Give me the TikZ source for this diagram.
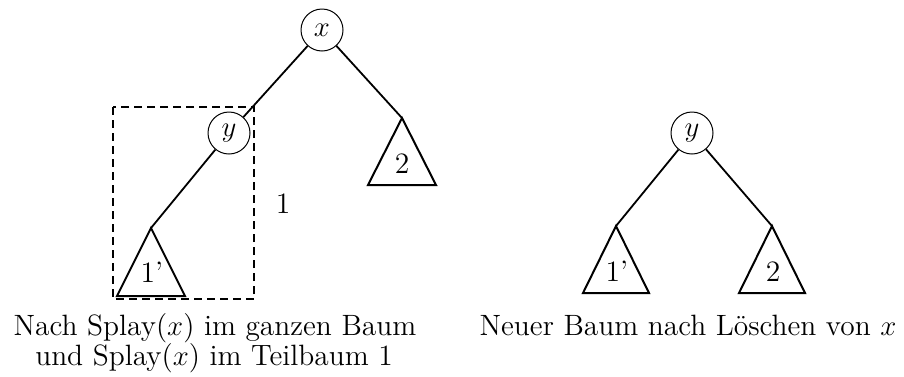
\documentclass[tikz,border=0pt]{standalone}
\begin{document}
\begin{tikzpicture}[x=0.5pt,y=-0.5pt]
\tikzset{
  knot/.style={circle,draw,line width=0.5pt,minimum size=21pt,inner sep=0pt,font=\fontsize{14.8}{17}\selectfont},
  edge/.style={line width=0.9pt},
  tri/.style={line width=1pt,line join=miter},
  lbl/.style={font=\fontsize{14.8}{17}\selectfont,inner sep=0pt,anchor=base},
  captext/.style={font=\fontsize{14.7}{17}\selectfont,inner sep=0pt,anchor=base}
}
\useasboundingbox (0,0) rectangle (904,376);
% left tree
\node[knot] (x) at (322,30) {$x$};
\node[knot] (y1) at (229,133) {$y$};
\coordinate (a1) at (151,228);
\coordinate (a2) at (402,118);
\draw[edge] (x) -- (y1);
\draw[edge] (x) -- (a2);
\draw[edge] (y1) -- (a1);
\draw[tri] (a1) -- (117,296) -- (185,296) -- cycle;
\draw[tri] (a2) -- (368,185) -- (436,185) -- cycle;
\node[lbl] (t1) at (152,282) {1'};
\node[lbl] (t2) at (402,173) {2};
\draw[line width=1pt,dash pattern=on 4pt off 2.5pt] (113,107) rectangle (254,299);
\node[lbl] (l1) at (283,213) {1};
% right tree
\node[knot] (y2) at (692,133) {$y$};
\coordinate (a3) at (616,226);
\coordinate (a4) at (772,226);
\draw[edge] (y2) -- (a3);
\draw[edge] (y2) -- (a4);
\draw[tri] (a3) -- (583,293) -- (649,293) -- cycle;
\draw[tri] (a4) -- (739,293) -- (805,293) -- cycle;
\node[lbl] (t3) at (617,281) {1'};
\node[lbl] (t4) at (773,281) {2};
% captions
\node[captext] (c1) at (215,335) {Nach Splay($x$) im ganzen Baum};
\node[captext] (c2) at (214,365) {und Splay($x$) im Teilbaum 1};
\node[captext] (c3) at (688,335) {Neuer Baum nach Löschen von $x$};
\end{tikzpicture}
\end{document}
